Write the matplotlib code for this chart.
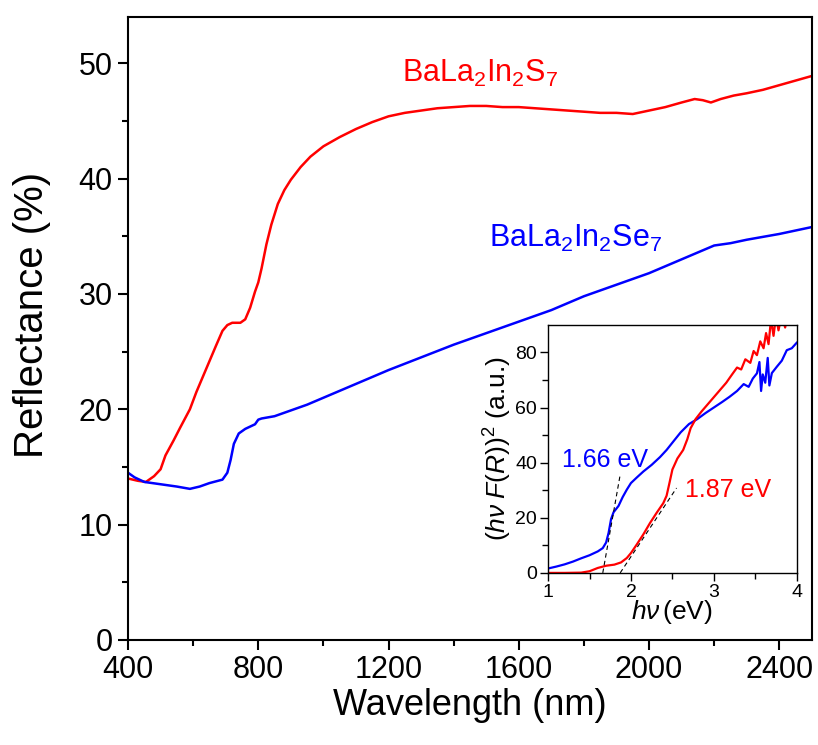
import matplotlib
matplotlib.use("Agg")
import matplotlib.pyplot as plt

plt.rcParams['font.family'] = ['Liberation Sans', 'DejaVu Sans']
plt.rcParams['mathtext.fontset'] = 'custom'
plt.rcParams['mathtext.rm'] = 'Liberation Sans'
plt.rcParams['mathtext.it'] = 'Liberation Sans:italic'

# main panel: diffuse reflectance
wl_s = [400, 430, 455, 480, 500, 515, 540, 560, 590, 610, 640, 670, 690, 705,
        720, 745, 760, 775, 790, 800, 810, 825, 840, 860, 880, 900, 930, 960,
        1000, 1050, 1100, 1150, 1200, 1250, 1300, 1350, 1400, 1450, 1500, 1550,
        1600, 1650, 1700, 1750, 1800, 1850, 1900, 1950, 2000, 2050, 2100, 2140,
        2165, 2190, 2220, 2260, 2300, 2350, 2400, 2450, 2500]
refl_s = [14.0, 13.8, 13.7, 14.2, 14.8, 16.0, 17.3, 18.4, 20.0, 21.5, 23.5, 25.5,
          26.8, 27.3, 27.5, 27.5, 27.8, 28.8, 30.2, 31.0, 32.2, 34.3, 36.0, 37.8,
          39.0, 39.9, 41.0, 41.9, 42.8, 43.6, 44.3, 44.9, 45.4, 45.7, 45.9, 46.1,
          46.2, 46.3, 46.3, 46.2, 46.2, 46.1, 46.0, 45.9, 45.8, 45.7, 45.7, 45.6,
          45.9, 46.2, 46.6, 46.9, 46.8, 46.6, 46.9, 47.2, 47.4, 47.7, 48.1, 48.5,
          48.9]

wl_se = [400, 420, 450, 500, 550, 590, 620, 650, 690, 705, 715, 725, 740, 760,
         790, 800, 810, 850, 900, 950, 1000, 1100, 1200, 1300, 1400, 1500, 1600,
         1700, 1800, 1900, 2000, 2100, 2150, 2200, 2250, 2300, 2400, 2500]
refl_se = [14.5, 14.1, 13.7, 13.5, 13.3, 13.1, 13.3, 13.6, 13.9, 14.5, 15.6, 17.0,
           17.9, 18.3, 18.7, 19.1, 19.2, 19.4, 19.9, 20.4, 21.0, 22.2, 23.4, 24.5,
           25.6, 26.6, 27.6, 28.6, 29.8, 30.8, 31.8, 33.0, 33.6, 34.2, 34.4, 34.7,
           35.2, 35.8]

# inset: Kubelka-Munk plot
hv_s = [1.00, 1.20, 1.40, 1.50, 1.60, 1.70, 1.80, 1.88, 1.95, 2.00, 2.07, 2.15,
        2.23, 2.31, 2.39, 2.43, 2.46, 2.50, 2.56, 2.63, 2.68, 2.72, 2.78, 2.85,
        2.95, 3.05, 3.15, 3.22, 3.28, 3.33, 3.38, 3.44, 3.48, 3.52, 3.56, 3.60,
        3.63, 3.66, 3.69, 3.72, 3.75, 3.78, 3.82, 3.86, 3.90, 3.94, 4.00]
km_s = [0, 0, 0.1, 0.6, 1.8, 2.6, 3.0, 3.8, 5.4, 7.2, 10.3, 14.0, 18.1, 21.8,
        25.3, 28.0, 32.0, 37.5, 41.5, 44.6, 48.5, 52.5, 55.8, 58.5, 62.0, 65.5,
        69.0, 72.0, 74.5, 73.8, 77.5, 76.2, 80.5, 79.0, 84.0, 81.5, 87.0, 83.0,
        92.0, 86.0, 93.0, 88.0, 94.0, 89.0, 95.0, 90.0, 94.0]

hv_se = [1.00, 1.10, 1.20, 1.30, 1.40, 1.50, 1.60, 1.66, 1.70, 1.73, 1.76, 1.79,
         1.85, 1.90, 1.95, 2.00, 2.07, 2.15, 2.25, 2.35, 2.43, 2.52, 2.60, 2.70,
         2.80, 2.90, 3.00, 3.10, 3.19, 3.28, 3.36, 3.42, 3.47, 3.52, 3.55, 3.57,
         3.59, 3.62, 3.65, 3.67, 3.70, 3.76, 3.82, 3.88, 3.94, 4.00]
km_se = [1.6, 2.3, 3.1, 4.1, 5.3, 6.4, 7.8, 9.0, 11.0, 14.5, 19.5, 22.0, 24.3,
         27.5, 30.2, 32.6, 34.6, 36.8, 39.2, 42.0, 44.6, 48.0, 51.0, 54.0, 55.8,
         58.0, 60.0, 62.0, 63.9, 66.0, 68.5, 67.5, 70.5, 72.4, 76.5, 66.0, 72.0,
         69.0, 78.0, 68.0, 72.5, 74.8, 77.0, 80.8, 81.5, 83.5]

# band-gap tangent lines
tan_se_x = [1.66, 1.87]
tan_se_y = [0, 35.6]
tan_s_x = [1.87, 2.55]
tan_s_y = [0, 30.8]

fig = plt.figure(figsize=(8.18, 7.45), dpi=100)
ax = fig.add_axes([0.1565, 0.141, 0.836, 0.836])

ax.plot(wl_s, refl_s, color='red', lw=1.8)
ax.plot(wl_se, refl_se, color='blue', lw=1.8)
ax.set_xlim(400, 2500)
ax.set_ylim(0, 54)
ax.set_xticks([400, 800, 1200, 1600, 2000, 2400])
ax.set_xticks(range(600, 2500, 400), minor=True)
ax.set_yticks([0, 10, 20, 30, 40, 50])
ax.set_yticks([5, 15, 25, 35, 45], minor=True)
ax.tick_params(which='major', direction='out', length=7.5, width=1.5, labelsize=22)
ax.tick_params(which='minor', direction='out', length=4.5, width=1.5)
for s in ax.spines.values():
    s.set_linewidth(1.5)
ax.set_xlabel('Wavelength (nm)', fontsize=26, labelpad=2)
ax.set_ylabel('Reflectance (%)', fontsize=29)
ax.yaxis.set_label_coords(-0.112, 0.522)

ax.text(1240, 48.4, 'BaLa$_2$In$_2$S$_7$', color='red', fontsize=22)
ax.text(1507, 34.1, 'BaLa$_2$In$_2$Se$_7$', color='blue', fontsize=22)

ins = fig.add_axes([0.670, 0.231, 0.304, 0.333])
ins.plot(hv_se, km_se, color='blue', lw=1.6)
ins.plot(hv_s, km_s, color='red', lw=1.6)
ins.plot(tan_se_x, tan_se_y, color='black', lw=0.8, ls=(0, (4, 3)))
ins.plot(tan_s_x, tan_s_y, color='black', lw=0.8, ls=(0, (4, 3)))
ins.set_xlim(1, 4)
ins.set_ylim(0, 90)
ins.set_xticks([1, 2, 3, 4])
ins.set_xticks([1.5, 2.5, 3.5], minor=True)
ins.set_yticks([0, 20, 40, 60, 80])
ins.set_yticks([10, 30, 50, 70], minor=True)
ins.tick_params(which='major', direction='out', length=6, width=1, labelsize=14, pad=2)
ins.tick_params(which='minor', direction='out', length=4.5, width=1)
for s in ins.spines.values():
    s.set_linewidth(1)
ins.set_xlabel(r'$h\nu\,$(eV)', fontsize=19, labelpad=-2)
ins.set_ylabel(r'$(h\nu\;F(R))^2$ (a.u.)', fontsize=19, labelpad=1)
ins.text(1.17, 38.5, '1.66 eV', color='blue', fontsize=18)
ins.text(2.65, 27.6, '1.87 eV', color='red', fontsize=18)

fig.savefig('out.png', dpi=100)
